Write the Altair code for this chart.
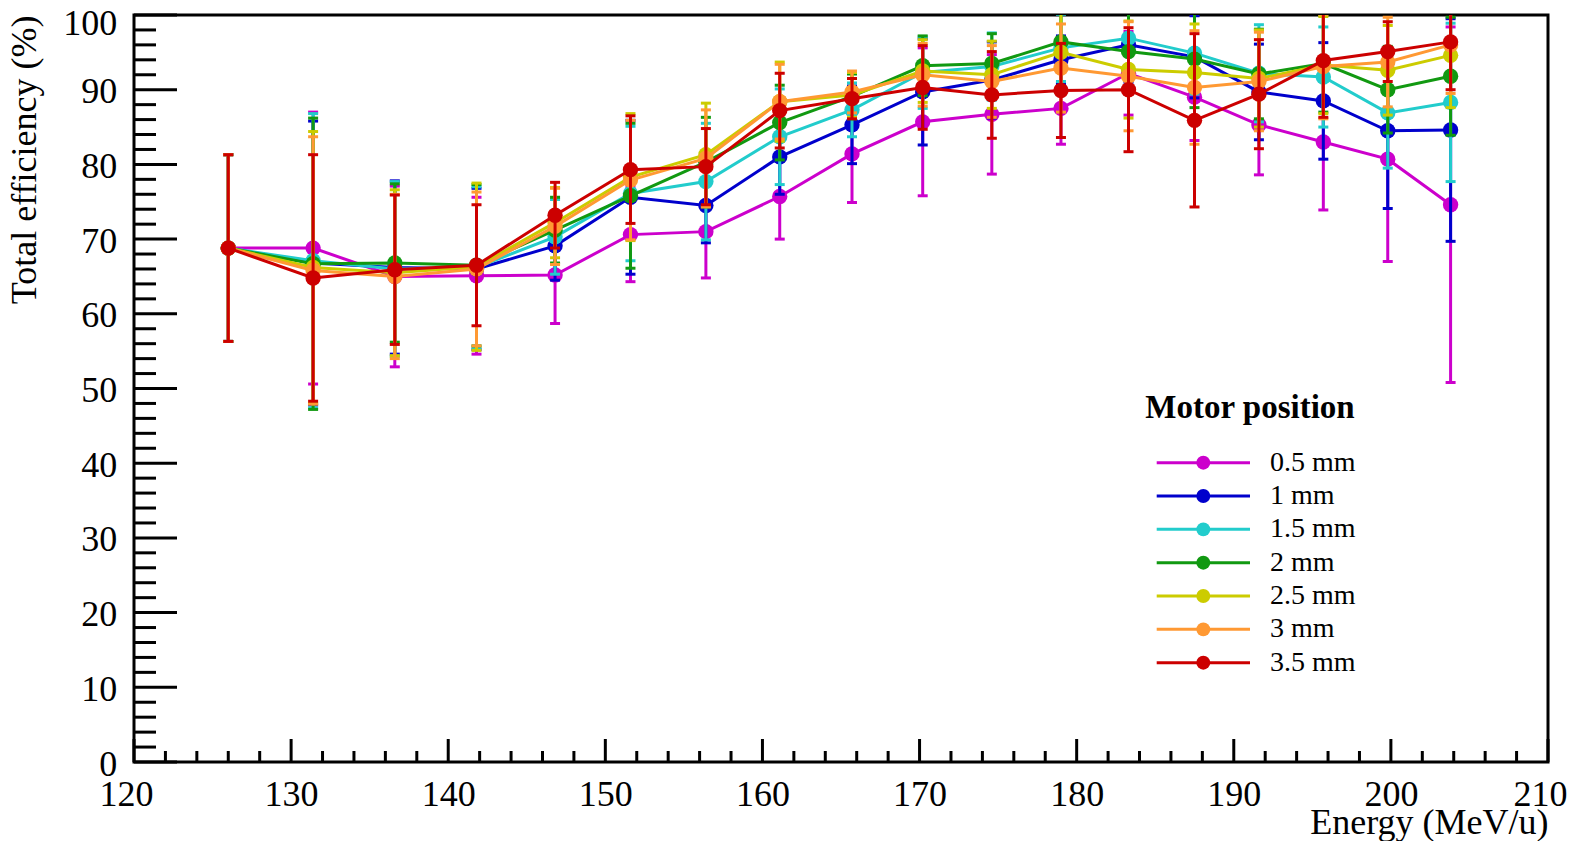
import altair as alt
import pandas as pd

# ---------------- data ----------------
energy = [126.0, 131.4, 136.6, 141.8, 146.8, 151.6, 156.4, 161.1, 165.7,
          170.2, 174.6, 179.0, 183.3, 187.5, 191.6, 195.7, 199.8, 203.8]

series = ["0.5 mm", "1 mm", "1.5 mm", "2 mm", "2.5 mm", "3 mm", "3.5 mm"]
colors = ["#CC00CC", "#0000CC", "#22CCCC", "#119911", "#CCCC00", "#FF9933", "#CC0000"]

eff_05 = [68.8, 68.8, 65.0, 65.1, 65.2, 70.6, 71.0, 75.7, 81.4, 85.7, 86.7, 87.5, 92.2, 89.0, 85.3, 83.0, 80.7, 74.6]
err_05 = [12.5, 18.2, 12.1, 10.5, 6.5, 6.3, 6.2, 5.7, 6.5, 9.9, 8.0, 4.8, 5.6, 5.8, 6.7, 9.1, 13.7, 23.8]

eff_10 = [68.8, 66.8, 66.2, 66.0, 69.1, 75.6, 74.5, 81.0, 85.3, 89.7, 91.3, 94.0, 96.0, 94.4, 89.7, 88.5, 84.5, 84.6]
err_10 = [12.5, 19.0, 11.6, 10.8, 4.6, 10.3, 5.0, 5.0, 5.2, 7.1, 5.1, 3.2, 5.0, 5.5, 6.4, 7.8, 10.4, 14.9]

eff_15 = [68.8, 67.1, 66.0, 66.2, 70.3, 76.1, 77.7, 83.7, 87.3, 92.3, 93.1, 95.6, 96.9, 94.9, 92.2, 91.7, 86.9, 88.3]
err_15 = [12.5, 19.7, 11.7, 10.8, 5.0, 9.0, 7.8, 6.4, 3.6, 4.8, 4.5, 4.5, 5.0, 5.5, 6.5, 6.7, 7.4, 10.6]

eff_20 = [68.8, 66.7, 66.8, 66.5, 71.2, 75.8, 80.3, 85.6, 89.1, 93.2, 93.5, 96.4, 95.1, 94.1, 92.1, 93.5, 90.0, 91.8]
err_20 = [12.5, 19.5, 10.6, 10.8, 4.4, 9.7, 6.0, 5.0, 3.0, 4.0, 4.0, 4.0, 5.5, 6.5, 6.0, 6.5, 5.8, 7.9]

eff_25 = [68.8, 66.2, 65.5, 66.3, 72.2, 78.3, 81.3, 88.4, 89.3, 92.5, 92.0, 95.0, 92.7, 92.3, 91.5, 93.3, 92.6, 94.6]
err_25 = [12.5, 18.2, 11.1, 11.2, 4.7, 8.5, 6.9, 5.3, 3.0, 4.2, 4.5, 5.5, 6.5, 6.5, 6.5, 6.5, 6.0, 7.0]

eff_30 = [68.8, 65.8, 65.0, 66.0, 71.7, 77.9, 80.8, 88.4, 89.7, 92.0, 91.1, 92.9, 91.8, 90.3, 91.1, 93.1, 93.7, 96.0]
err_30 = [12.5, 17.9, 11.0, 10.3, 5.1, 8.0, 6.5, 5.0, 2.8, 4.2, 4.8, 5.9, 7.3, 7.6, 6.6, 7.0, 6.0, 6.5]

eff_35 = [68.8, 64.8, 65.9, 66.5, 73.2, 79.3, 79.7, 87.2, 88.8, 90.3, 89.3, 89.9, 90.0, 85.9, 89.4, 93.9, 95.1, 96.4]
err_35 = [12.5, 16.5, 10.0, 8.1, 4.4, 7.2, 5.1, 5.0, 2.7, 5.6, 5.8, 6.3, 8.3, 11.6, 7.3, 7.6, 4.0, 6.4]

x_major = list(range(120, 211, 10))
x_minor = [v for v in range(120, 211, 2) if v % 10]
y_major = list(range(0, 101, 10))
y_minor = [v for v in range(0, 101, 2) if v % 10]

legend_title = ["Motor position"]

# ---------------- tables ----------------
effs = [eff_05, eff_10, eff_15, eff_20, eff_25, eff_30, eff_35]
errs = [err_05, err_10, err_15, err_20, err_25, err_30, err_35]
rows = []
for s, ev, er in zip(series, effs, errs):
    for e, v, d in zip(energy, ev, er):
        rows.append({"E": e, "series": s, "val": v, "lo": v - d, "hi": v + d})
df = pd.DataFrame(rows)
caps = pd.concat([
    df[["E", "series", "lo"]].rename(columns={"lo": "cap"}),
    df[["E", "series", "hi"]].rename(columns={"hi": "cap"}),
], ignore_index=True)
leg = pd.DataFrame({"series": series, "row": list(range(len(series)))})

W, H = 1414, 747
FONT = "Liberation Serif"

xscale = alt.Scale(domain=[120, 210], nice=False, zero=False)
yscale = alt.Scale(domain=[0, 100], nice=False, zero=False)
cscale = alt.Scale(domain=series, range=colors)
rowscale = alt.Scale(domain=[0, 6], range=[447.7, 647.7], nice=False, zero=False)

xaxis = alt.Axis(
    title="Energy (MeV/u)", values=x_major, ticks=False, tickSize=0, domain=False,
    grid=False, labelFlush=False, labelFont=FONT, labelFontSize=36, labelColor="black",
    labelPadding=15.6,
    labelOffset={"condition": {"test": "datum.value == 120 || datum.value == 210", "value": -8},
                 "value": 0},
    titleFont=FONT, titleFontSize=36, titleFontWeight="normal", titleColor="black",
    titleX=W, titleY=71, titleAlign="right", titleBaseline="alphabetic", titleAngle=0,
)
yaxis = alt.Axis(
    title="Total efficiency (%)", values=y_major, ticks=False, tickSize=0, domain=False,
    grid=False, labelFont=FONT, labelFontSize=36, labelColor="black", labelPadding=17.3,
    labelOffset={"condition": {"test": "datum.value == 100", "value": 8}, "value": 2},
    titleFont=FONT, titleFontSize=36, titleFontWeight="normal", titleColor="black",
    titleX=-99, titleY=0, titleAngle=270, titleAlign="right", titleBaseline="alphabetic",
)

layers = []
# axes + inward ticks
layers.append(alt.Chart(pd.DataFrame({"v": x_major})).mark_rule(color="black", strokeWidth=3).encode(
    x=alt.X("v:Q", scale=xscale, axis=xaxis), y=alt.value(H), y2=alt.value(H - 23)))
layers.append(alt.Chart(pd.DataFrame({"v": y_major})).mark_rule(color="black", strokeWidth=3).encode(
    y=alt.Y("v:Q", scale=yscale, axis=yaxis), x=alt.value(0), x2=alt.value(43)))
layers.append(alt.Chart(pd.DataFrame({"v": y_minor})).mark_rule(color="black", strokeWidth=3).encode(
    y=alt.Y("v:Q", scale=yscale, axis=None), x=alt.value(0), x2=alt.value(22)))
layers.append(alt.Chart(pd.DataFrame({"v": x_minor})).mark_rule(color="black", strokeWidth=3).encode(
    x=alt.X("v:Q", scale=xscale, axis=None), y=alt.value(H), y2=alt.value(H - 11)))

for s in series:
    flt = alt.datum.series == s
    layers.append(alt.Chart(df).transform_filter(flt).mark_rule(strokeWidth=3, clip=True).encode(
        x=alt.X("E:Q", scale=xscale, axis=None),
        y=alt.Y("lo:Q", scale=yscale, axis=None),
        y2="hi:Q",
        color=alt.Color("series:N", scale=cscale, legend=None)))
    layers.append(alt.Chart(caps).transform_filter(flt).mark_tick(
        orient="horizontal", size=10, thickness=3, opacity=1, clip=True).encode(
        x=alt.X("E:Q", scale=xscale, axis=None),
        y=alt.Y("cap:Q", scale=yscale, axis=None),
        color=alt.Color("series:N", scale=cscale, legend=None)))
    layers.append(alt.Chart(df).transform_filter(flt).mark_line(strokeWidth=3, clip=True).encode(
        x=alt.X("E:Q", scale=xscale, axis=None),
        y=alt.Y("val:Q", scale=yscale, axis=None),
        color=alt.Color("series:N", scale=cscale, legend=None)))
    layers.append(alt.Chart(df).transform_filter(flt).mark_point(
        filled=True, size=236, opacity=1, strokeWidth=0, clip=True).encode(
        x=alt.X("E:Q", scale=xscale, axis=None),
        y=alt.Y("val:Q", scale=yscale, axis=None),
        color=alt.Color("series:N", scale=cscale, legend=None)))

# legend block
layers.append(alt.Chart(leg).mark_rule(strokeWidth=3).encode(
    x=alt.value(1022.7), x2=alt.value(1116),
    y=alt.Y("row:Q", scale=rowscale, axis=None),
    color=alt.Color("series:N", scale=cscale, legend=None)))
layers.append(alt.Chart(leg).mark_point(filled=True, size=194, opacity=1, strokeWidth=0).encode(
    x=alt.value(1069.3),
    y=alt.Y("row:Q", scale=rowscale, axis=None),
    color=alt.Color("series:N", scale=cscale, legend=None)))
layers.append(alt.Chart(leg).mark_text(
    align="left", baseline="middle", font=FONT, fontSize=28, color="black").encode(
    x=alt.value(1136),
    y=alt.Y("row:Q", scale=rowscale, axis=None),
    text="series:N"))
layers.append(alt.Chart(pd.DataFrame({"t": legend_title})).mark_text(
    align="center", baseline="alphabetic", font=FONT, fontSize=33, fontWeight="bold",
    color="black").encode(x=alt.value(1116), y=alt.value(403), text="t:N"))

chart = alt.layer(*layers).resolve_scale(x="independent", y="independent").properties(
    width=W, height=H,
    autosize=alt.AutoSizeParams(type="none"),
    padding={"left": 126, "top": 7, "right": 22, "bottom": 79},
).configure(font=FONT, background="white").configure_view(stroke="black", strokeWidth=3)

chart.save("out.html", embed_options={"renderer": "svg", "actions": False})
